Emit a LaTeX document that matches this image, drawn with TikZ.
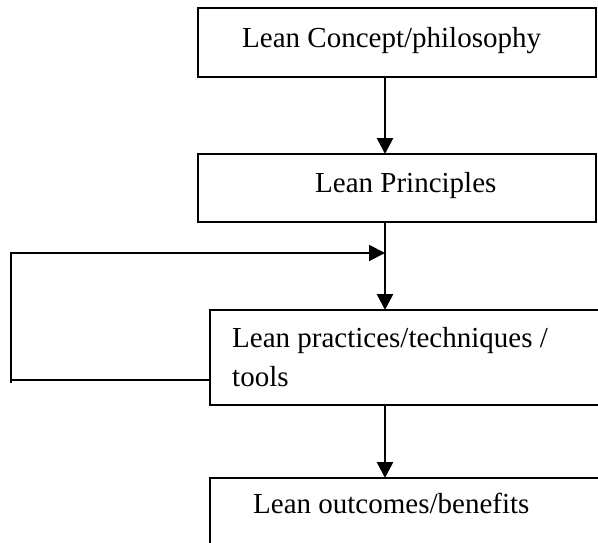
\documentclass[tikz,border=0pt]{standalone}
\usepackage{fontspec}
\setmainfont{Liberation Serif}
\usetikzlibrary{arrows.meta}
\begin{document}
\begin{tikzpicture}[x=1pt,y=-1pt,
  box/.style={draw, line width=1.5pt, rectangle, inner sep=0pt, outer sep=0pt, anchor=north west},
  lbl/.style={font=\fontsize{29}{38}\selectfont, inner sep=0pt, anchor=base west},
  tip/.style={-{Triangle[length=16pt,width=16pt]}},
  arr/.style={line width=2.5pt, tip},
  fb/.style={line width=2pt}]
\useasboundingbox (0,0) rectangle (598,542);
\clip (0,0) rectangle (598,542);
% boxes
\node[box, minimum width=398pt, minimum height=69pt] (b1) at (198,8) {};
\node[box, minimum width=398pt, minimum height=68pt] (b2) at (198,154) {};
\node[box, minimum width=420pt, minimum height=95pt] (b3) at (210,310) {};
\node[box, minimum width=420pt, minimum height=110pt] (b4) at (210,478) {};
% texts
\node[lbl] (t1) at (242,47) {Lean Concept/philosophy};
\node[lbl] (t2) at (315,192) {Lean Principles};
\node[lbl] (t3a) at (232,347) {Lean practices/techniques /};
\node[lbl] (t3b) at (232,386) {tools};
\node[lbl] (t4) at (253,513) {Lean outcomes/benefits};
% connectors
\coordinate (a1) at (385,77);
\coordinate (a2) at (385,222);
\coordinate (a3) at (385,405);
\draw[arr] (a1) -- (a1 |- b2.north);
\draw[arr] (a2) -- (a2 |- b3.north);
\draw[arr] (a3) -- (a3 |- b4.north);
% feedback loop
\coordinate (fbstart) at (210,380);
\coordinate (fbcorner) at (11,380);
\coordinate (fbend) at (385,253);
\draw[fb] (fbstart) -- (fbcorner) -- ++(0,3);
\draw[fb, tip] (fbcorner) |- (fbend);
\end{tikzpicture}
\end{document}
